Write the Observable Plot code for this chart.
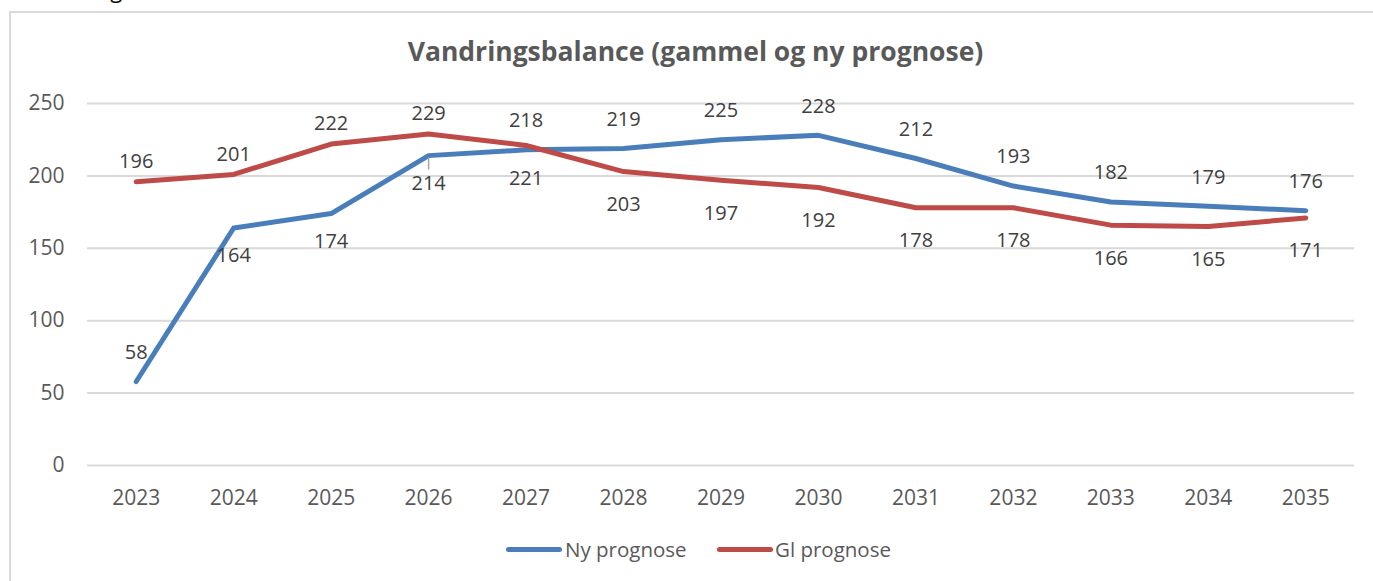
<!DOCTYPE html>
<html>
<head>
<meta charset="utf-8">
<script src="https://cdn.jsdelivr.net/npm/d3@7"></script>
<script src="https://cdn.jsdelivr.net/npm/@observablehq/plot@0.6"></script>
<style>
  html, body { margin: 0; padding: 0; background: #fff; }
  body { width: 1373px; height: 581px; overflow: hidden; position: relative; font-family: "Open Sans", sans-serif; }
  #cut { position: absolute; left: 30px; top: -26px; font-size: 22px; color: #000; line-height: normal; white-space: nowrap; }
  #box { position: absolute; left: 9px; top: 11px; width: 1400px; height: 600px; border: 2px solid #d9d9d9; box-sizing: border-box; }
  #title { position: absolute; left: 0; width: 1391px; top: 33px; text-align: center; font-weight: bold; font-size: 26.5px; color: #595959; line-height: normal; white-space: nowrap; }
  #chart { position: absolute; left: 0; top: 0; }
  #legend { position: absolute; top: 535px; left: 0; height: 30px; }
  .item { position: absolute; top: 0; font-size: 20.5px; color: #595959; line-height: normal; white-space: nowrap; }
  .sw { position: absolute; top: 12px; height: 5px; border-radius: 3px; }
</style>
</head>
<body>
<div id="cut">Vandringsbalance</div>
<div id="box"></div>
<div id="chart"></div>
<div id="title">Vandringsbalance  (gammel og ny prognose)</div>
<div id="legend"></div>
<script>
const years = [2023, 2024, 2025, 2026, 2027, 2028, 2029, 2030, 2031, 2032, 2033, 2034, 2035];
const nyValues = [58, 164, 174, 214, 218, 219, 225, 228, 212, 193, 182, 179, 176];
const glValues = [196, 201, 222, 229, 221, 203, 197, 192, 178, 178, 166, 165, 171];
const seriesNames = ["Ny prognose", "Gl prognose"];
const seriesColors = ["#4A7EBB", "#BE4B48"];
const yTicks = [0, 50, 100, 150, 200, 250];

const data = [
  ...years.map((year, i) => ({year, value: nyValues[i], series: seriesNames[0]})),
  ...years.map((year, i) => ({year, value: glValues[i], series: seriesNames[1]}))
];

// label placement as in the original (manually positioned in the source)
const nyBelow = d => d.series === seriesNames[0] && d.year >= 2024 && d.year <= 2026;
const nyAbove = d => d.series === seriesNames[0] && !nyBelow(d);
const glAbove = d => d.series === seriesNames[1] && d.year <= 2026;
const glBelow = d => d.series === seriesNames[1] && !glAbove(d);
const labelFill = "#404040";
const labelOpts = {x: "year", y: "value", text: d => String(d.value), fill: labelFill, fontSize: 20};

const chart = Plot.plot({
  width: 1373,
  height: 520,
  marginTop: 103,
  marginBottom: 55,
  marginLeft: 87,
  marginRight: 19,
  style: {fontFamily: "Open Sans, sans-serif", background: "transparent", color: "#595959"},
  x: {domain: [2022.5, 2035.5]},
  y: {domain: [0, 250]},
  color: {domain: seriesNames, range: seriesColors},
  marks: [
    Plot.gridY(yTicks, {stroke: "#d9d9d9", strokeOpacity: 1, strokeWidth: 2}),
    Plot.axisY(yTicks, {tickSize: 0, tickPadding: 23, fontSize: 21, label: null, fill: "#595959"}),
    Plot.axisX(years, {tickSize: 0, tickPadding: 25, fontSize: 21, label: null, tickFormat: d => String(d), fill: "#595959"}),
    Plot.line(data, {x: "year", y: "value", z: "series", stroke: "series", strokeWidth: 5, strokeLinecap: "round", strokeLinejoin: "round"}),
    Plot.ruleX(data.filter(d => nyBelow(d) && d.year === 2026), {x: "year", y1: d => d.value - 1.5, y2: d => d.value - 10, stroke: "#a6a6a6", strokeWidth: 1.5}),
    Plot.text(data.filter(nyAbove), {...labelOpts, dy: -29}),
    Plot.text(data.filter(nyBelow), {...labelOpts, dy: 28}),
    Plot.text(data.filter(glAbove), {...labelOpts, dy: -20}),
    Plot.text(data.filter(glBelow), {...labelOpts, dy: 33})
  ]
});
document.getElementById("chart").appendChild(chart);

// legend
const legend = document.getElementById("legend");
const legendX = [{sw: 506, tx: 565}, {sw: 717, tx: 775}];
seriesNames.forEach((name, i) => {
  const sw = document.createElement("div");
  sw.className = "sw";
  sw.style.left = legendX[i].sw + "px";
  sw.style.width = "56px";
  sw.style.background = seriesColors[i];
  legend.appendChild(sw);
  const t = document.createElement("div");
  t.className = "item";
  t.style.left = legendX[i].tx + "px";
  t.textContent = name;
  legend.appendChild(t);
});
</script>
</body>
</html>
